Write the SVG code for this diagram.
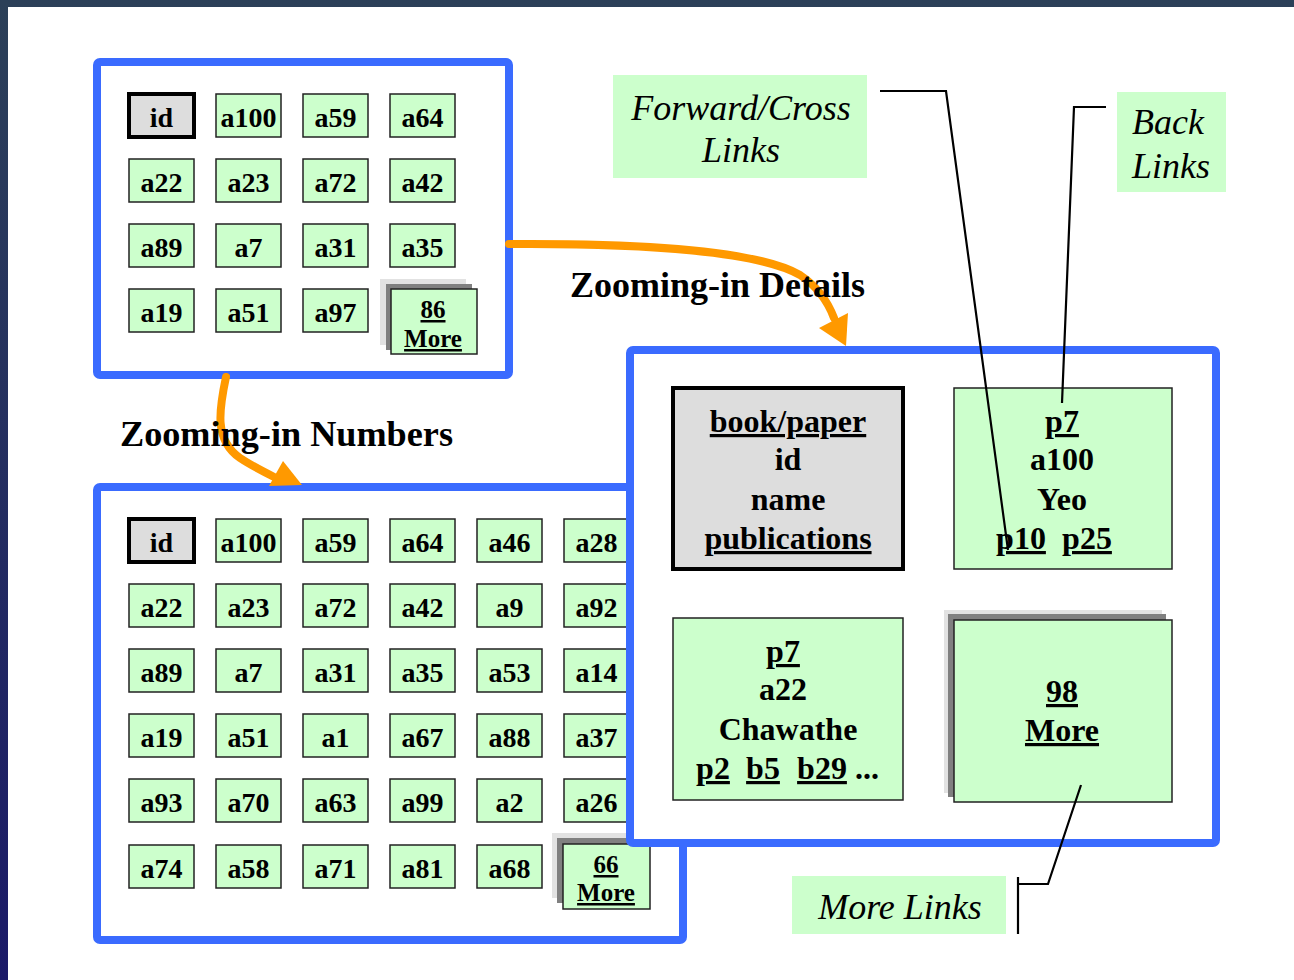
<svg xmlns="http://www.w3.org/2000/svg" width="1294" height="980" viewBox="0 0 1294 980">
<defs>
<linearGradient id="bg" x1="0" y1="0" x2="0" y2="1">
<stop offset="0" stop-color="#2c4058"/>
<stop offset="1" stop-color="#1b1a68"/>
</linearGradient>
</defs>
<style>
.panel{fill:#fff;stroke:#3a6bff;stroke-width:8}
.cell{fill:#ccffcc;stroke:#222;stroke-width:1.5}
.key{fill:#dddddd;stroke:#000;stroke-width:4}
.sh1{fill:#e2e2e2}
.sh2{fill:#808080}
.t{font-family:"Liberation Serif","Times New Roman",serif;font-weight:bold;font-size:28px;fill:#000;text-anchor:middle}
.tm{font-family:"Liberation Serif","Times New Roman",serif;font-weight:bold;font-size:25px;fill:#000;text-anchor:middle;text-decoration:underline}
.big{font-family:"Liberation Serif","Times New Roman",serif;font-weight:bold;font-size:32px;fill:#000;text-anchor:middle}
.u{text-decoration:underline}
.lab{fill:#ccffcc}
.it{font-family:"Liberation Serif","Times New Roman",serif;font-style:italic;font-size:36px;fill:#000}
.head{font-family:"Liberation Serif","Times New Roman",serif;font-weight:bold;font-size:35px;fill:#000}
.con{fill:none;stroke:#000;stroke-width:2.2}
.arr{fill:none;stroke:#ff9900;stroke-width:8;stroke-linecap:round}
.ah{fill:#ff9900}
</style>
<rect x="0" y="0" width="1294" height="980" fill="url(#bg)"/>
<rect x="8" y="7" width="1286" height="973" fill="#fff"/>

<g id="panel-top">
<rect class="panel" x="97" y="62" width="412" height="313" rx="3"/>
<rect class="key" x="129" y="94" width="65" height="43"/><text class="t" x="161.5" y="127">id</text>
<rect class="cell" x="216" y="94" width="65" height="43"/><text class="t" x="248.5" y="127">a100</text>
<rect class="cell" x="303" y="94" width="65" height="43"/><text class="t" x="335.5" y="127">a59</text>
<rect class="cell" x="390" y="94" width="65" height="43"/><text class="t" x="422.5" y="127">a64</text>
<rect class="cell" x="129" y="159" width="65" height="43"/><text class="t" x="161.5" y="192">a22</text>
<rect class="cell" x="216" y="159" width="65" height="43"/><text class="t" x="248.5" y="192">a23</text>
<rect class="cell" x="303" y="159" width="65" height="43"/><text class="t" x="335.5" y="192">a72</text>
<rect class="cell" x="390" y="159" width="65" height="43"/><text class="t" x="422.5" y="192">a42</text>
<rect class="cell" x="129" y="224" width="65" height="43"/><text class="t" x="161.5" y="257">a89</text>
<rect class="cell" x="216" y="224" width="65" height="43"/><text class="t" x="248.5" y="257">a7</text>
<rect class="cell" x="303" y="224" width="65" height="43"/><text class="t" x="335.5" y="257">a31</text>
<rect class="cell" x="390" y="224" width="65" height="43"/><text class="t" x="422.5" y="257">a35</text>
<rect class="cell" x="129" y="289" width="65" height="43"/><text class="t" x="161.5" y="322">a19</text>
<rect class="cell" x="216" y="289" width="65" height="43"/><text class="t" x="248.5" y="322">a51</text>
<rect class="cell" x="303" y="289" width="65" height="43"/><text class="t" x="335.5" y="322">a97</text>
<g id="more86">
<rect class="sh1" x="380" y="279" width="86" height="66"/>
<rect class="sh2" x="386" y="284" width="86" height="66"/>
<rect class="cell" x="391" y="289" width="86" height="65"/>
<text class="tm" x="433" y="318">86</text>
<text class="tm" x="433" y="347">More</text>
</g>
</g>

<g id="panel-bottom">
<rect class="panel" x="97" y="487" width="586" height="453" rx="3"/>
<rect class="key" x="129" y="519" width="65" height="43"/><text class="t" x="161.5" y="552">id</text>
<rect class="cell" x="216" y="519" width="65" height="43"/><text class="t" x="248.5" y="552">a100</text>
<rect class="cell" x="303" y="519" width="65" height="43"/><text class="t" x="335.5" y="552">a59</text>
<rect class="cell" x="390" y="519" width="65" height="43"/><text class="t" x="422.5" y="552">a64</text>
<rect class="cell" x="477" y="519" width="65" height="43"/><text class="t" x="509.5" y="552">a46</text>
<rect class="cell" x="564" y="519" width="65" height="43"/><text class="t" x="596.5" y="552">a28</text>
<rect class="cell" x="129" y="584" width="65" height="43"/><text class="t" x="161.5" y="617">a22</text>
<rect class="cell" x="216" y="584" width="65" height="43"/><text class="t" x="248.5" y="617">a23</text>
<rect class="cell" x="303" y="584" width="65" height="43"/><text class="t" x="335.5" y="617">a72</text>
<rect class="cell" x="390" y="584" width="65" height="43"/><text class="t" x="422.5" y="617">a42</text>
<rect class="cell" x="477" y="584" width="65" height="43"/><text class="t" x="509.5" y="617">a9</text>
<rect class="cell" x="564" y="584" width="65" height="43"/><text class="t" x="596.5" y="617">a92</text>
<rect class="cell" x="129" y="649" width="65" height="43"/><text class="t" x="161.5" y="682">a89</text>
<rect class="cell" x="216" y="649" width="65" height="43"/><text class="t" x="248.5" y="682">a7</text>
<rect class="cell" x="303" y="649" width="65" height="43"/><text class="t" x="335.5" y="682">a31</text>
<rect class="cell" x="390" y="649" width="65" height="43"/><text class="t" x="422.5" y="682">a35</text>
<rect class="cell" x="477" y="649" width="65" height="43"/><text class="t" x="509.5" y="682">a53</text>
<rect class="cell" x="564" y="649" width="65" height="43"/><text class="t" x="596.5" y="682">a14</text>
<rect class="cell" x="129" y="714" width="65" height="43"/><text class="t" x="161.5" y="747">a19</text>
<rect class="cell" x="216" y="714" width="65" height="43"/><text class="t" x="248.5" y="747">a51</text>
<rect class="cell" x="303" y="714" width="65" height="43"/><text class="t" x="335.5" y="747">a1</text>
<rect class="cell" x="390" y="714" width="65" height="43"/><text class="t" x="422.5" y="747">a67</text>
<rect class="cell" x="477" y="714" width="65" height="43"/><text class="t" x="509.5" y="747">a88</text>
<rect class="cell" x="564" y="714" width="65" height="43"/><text class="t" x="596.5" y="747">a37</text>
<rect class="cell" x="129" y="779" width="65" height="43"/><text class="t" x="161.5" y="812">a93</text>
<rect class="cell" x="216" y="779" width="65" height="43"/><text class="t" x="248.5" y="812">a70</text>
<rect class="cell" x="303" y="779" width="65" height="43"/><text class="t" x="335.5" y="812">a63</text>
<rect class="cell" x="390" y="779" width="65" height="43"/><text class="t" x="422.5" y="812">a99</text>
<rect class="cell" x="477" y="779" width="65" height="43"/><text class="t" x="509.5" y="812">a2</text>
<rect class="cell" x="564" y="779" width="65" height="43"/><text class="t" x="596.5" y="812">a26</text>
<rect class="cell" x="129" y="845" width="65" height="43"/><text class="t" x="161.5" y="878">a74</text>
<rect class="cell" x="216" y="845" width="65" height="43"/><text class="t" x="248.5" y="878">a58</text>
<rect class="cell" x="303" y="845" width="65" height="43"/><text class="t" x="335.5" y="878">a71</text>
<rect class="cell" x="390" y="845" width="65" height="43"/><text class="t" x="422.5" y="878">a81</text>
<rect class="cell" x="477" y="845" width="65" height="43"/><text class="t" x="509.5" y="878">a68</text>
<g id="more66">
<rect class="sh1" x="552" y="833" width="87" height="65"/>
<rect class="sh2" x="557" y="838" width="87" height="65"/>
<rect class="cell" x="563" y="844" width="87" height="65"/>
<text class="tm" x="606" y="873">66</text>
<text class="tm" x="606" y="901">More</text>
</g>
</g>

<g id="panel-right">
<rect class="panel" x="630" y="350" width="586" height="493" rx="3"/>
<g id="schema">
<rect class="key" x="673" y="388" width="230" height="181"/>
<text class="big u" x="788" y="432">book/paper</text>
<text class="big" x="788" y="470">id</text>
<text class="big" x="788" y="510">name</text>
<text class="big u" x="788" y="549">publications</text>
</g>
<g id="p7-a100">
<rect class="cell" x="954" y="388" width="218" height="181"/>
<text class="big u" x="1062" y="432">p7</text>
<text class="big" x="1062" y="470">a100</text>
<text class="big" x="1062" y="510">Yeo</text>
<text class="big u" x="1021" y="549">p10</text>
<text class="big u" x="1087" y="549">p25</text>
</g>
<g id="p7-a22">
<rect class="cell" x="673" y="618" width="230" height="182"/>
<text class="big u" x="783" y="662">p7</text>
<text class="big" x="783" y="700">a22</text>
<text class="big" x="788" y="740">Chawathe</text>
<text class="big u" x="713" y="779">p2</text>
<text class="big u" x="763" y="779">b5</text>
<text class="big u" x="822" y="779">b29</text>
<text class="big" x="867" y="779">...</text>
</g>
<g id="more98">
<rect class="sh1" x="944" y="610" width="218" height="183"/>
<rect class="sh2" x="948" y="614" width="218" height="183"/>
<rect class="cell" x="954" y="620" width="218" height="182"/>
<text class="big u" x="1062" y="702">98</text>
<text class="big u" x="1062" y="741">More</text>
</g>
</g>

<g id="label-forward">
<rect class="lab" x="613" y="75" width="254" height="103"/>
<text class="it" x="741" y="120" text-anchor="middle">Forward/Cross</text>
<text class="it" x="741" y="162" text-anchor="middle">Links</text>
</g>
<g id="label-back">
<rect class="lab" x="1117" y="92" width="109" height="100"/>
<text class="it" x="1132" y="134">Back</text>
<text class="it" x="1132" y="178">Links</text>
</g>
<g id="label-more">
<rect class="lab" x="792" y="876" width="214" height="58"/>
<text class="it" x="900" y="919" text-anchor="middle">More Links</text>
</g>

<g id="connectors">
<polyline class="con" points="880,91 946,91 1008,550"/>
<polyline class="con" points="1106,107 1074,107 1062,403"/>
<line class="con" x1="1018" y1="877" x2="1018" y2="934"/>
<polyline class="con" points="1018,884 1048,884 1081,785"/>
<path class="arr" d="M509,244 C650,243 760,252 800,275 C818,287 828,302 834,318"/>
<polygon class="ah" points="846,346 819,328 848,313"/>
<path class="arr" d="M226,377 C219,410 214,440 240,458 C252,466 262,471 276,478"/>
<polygon class="ah" points="302,485 269,486 283,461"/>
</g>

<g id="headings">
<text class="head" x="570" y="297" textLength="295" lengthAdjust="spacingAndGlyphs">Zooming-in Details</text>
<text class="head" x="120" y="446" textLength="333" lengthAdjust="spacingAndGlyphs">Zooming-in Numbers</text>
</g>
</svg>
